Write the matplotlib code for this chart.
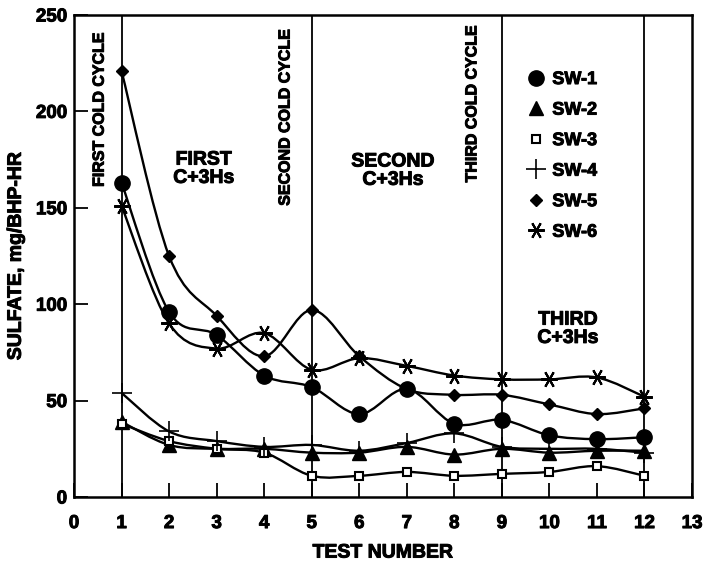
import numpy as np
import matplotlib
matplotlib.use("Agg")
import matplotlib.pyplot as plt
import matplotlib.patheffects as pe
from matplotlib.path import Path
from matplotlib.patches import PathPatch
from matplotlib.lines import Line2D
from matplotlib.text import Text

plt.rcParams["font.family"] = ["Liberation Sans", "DejaVu Sans"]
plt.rcParams["font.weight"] = "bold"

tests = [1, 2, 3, 4, 5, 6, 7, 8, 9, 10, 11, 12]
sw1 = [163, 96, 84, 63, 57, 43, 56, 38, 40, 32, 30, 31]
sw2 = [39, 27, 25, 25, 23, 23, 26, 22, 25, 23, 24, 24]
sw3 = [38, 29, 25, 23, 11, 11, 13, 11, 12, 13, 16, 11]
sw4 = [54, 34, 29, 26, 27, 24, 28, 33, 26, 25, 25, 23]
sw5 = [221, 125, 94, 73, 97, 73, 56, 53, 53, 48, 43, 46]
sw6 = [151, 90, 77, 85, 66, 72, 68, 63, 61, 61, 62, 52]
cycle_lines = [1, 5, 9, 12]

series = [
    ("SW-1", sw1, dict(marker="o", ms=11, mfc="black")),
    ("SW-2", sw2, dict(marker="^", ms=10, mfc="black")),
    ("SW-3", sw3, dict(marker="s", ms=6, mfc="white", mew=1.5)),
    ("SW-4", sw4, dict(marker="+", ms=15, mew=1.2)),
    ("SW-5", sw5, dict(marker="D", ms=6.5, mfc="black")),
    ("SW-6", sw6, dict(marker=(6, 2, 90), ms=12, mew=1.5)),
]


def smooth_path(xs, ys):
    # Catmull-Rom curve through the points, drawn as cubic Bezier segments
    p = np.column_stack([xs, ys]).astype(float)
    verts, codes = [p[0]], [Path.MOVETO]
    for i in range(len(p) - 1):
        p0 = p[i - 1] if i > 0 else p[i]
        p3 = p[i + 2] if i + 2 < len(p) else p[i + 1]
        verts += [p[i] + (p[i + 1] - p0) / 6, p[i + 1] - (p3 - p[i]) / 6, p[i + 1]]
        codes += [Path.CURVE4] * 3
    return Path(verts, codes)


fig = plt.figure(figsize=(7.08, 5.64), dpi=100)
ax = fig.add_axes([74 / 708, 67 / 564, 618 / 708, 482 / 564])

for x in cycle_lines:
    ax.axvline(x, color="black", lw=1.3, zorder=1)

handles = []
for name, ys, st in series:
    ax.add_patch(PathPatch(smooth_path(tests, ys), fill=False, ec="black", lw=1.7, zorder=2))
    ax.plot(tests, ys, ls="none", color="black", mec="black", zorder=3, **st)
    handles.append(Line2D([], [], ls="none", color="black", mec="black", label=name, **st))

ax.set_xlim(0, 13)
ax.set_ylim(0, 250)
ax.set_xticks(range(0, 14))
ax.set_yticks(range(0, 251, 50))
ax.tick_params(direction="in", length=10, width=1.3, labelsize=13.5)
ax.tick_params(axis="x", pad=13)
ax.tick_params(axis="y", pad=5)
for sp in ax.spines.values():
    sp.set_linewidth(1.8)

ax.set_xlabel("TEST NUMBER", fontsize=14, fontweight="bold", labelpad=9)
ax.set_ylabel("SULFATE, mg/BHP-HR", fontsize=14, fontweight="bold", labelpad=8)

cold_kw = dict(rotation=90, ha="center", va="center", fontsize=11.5, fontweight="bold")
ax.text(0.53, 201, "FIRST COLD CYCLE", **cold_kw)
ax.text(4.44, 197, "SECOND COLD CYCLE", **cold_kw)
ax.text(8.37, 204, "THIRD COLD CYCLE", **cold_kw)

phase_kw = dict(ha="center", va="center", fontsize=14, fontweight="bold", linespacing=1.1)
ax.text(2.73, 170, "FIRST\nC+3Hs", **phase_kw)
ax.text(6.71, 169, "SECOND\nC+3Hs", **phase_kw)
ax.text(10.39, 87, "THIRD\nC+3Hs", **phase_kw)

ax.legend(handles=handles, loc="upper left", bbox_to_anchor=((518 - 74) / 618, (497 - 62) / 482),
          frameon=False, fontsize=13, handlelength=1.0, handletextpad=0.4,
          labelspacing=0.75, borderpad=0)

# heavier letters, like the original print
for t in fig.findobj(Text):
    t.set_path_effects([pe.withStroke(linewidth=0.7, foreground="black")])

fig.savefig("out.png", dpi=100)
